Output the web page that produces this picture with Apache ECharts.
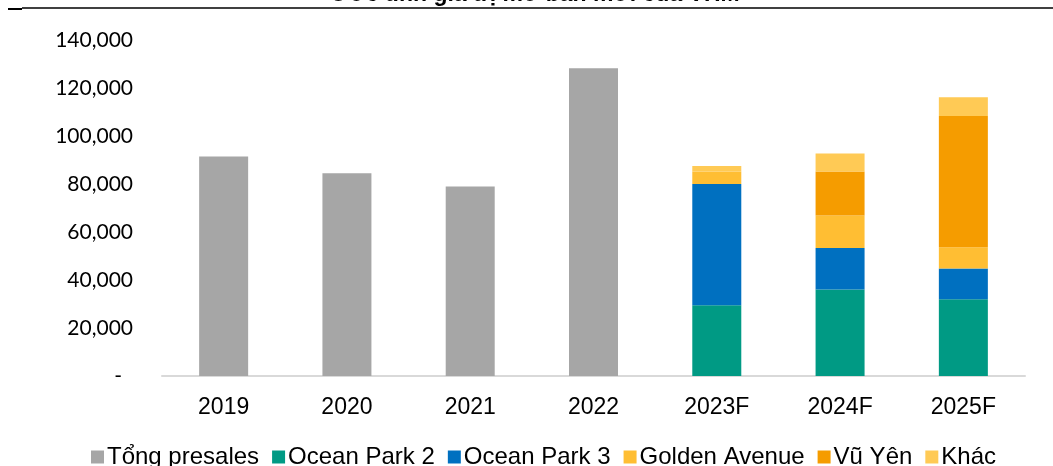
<!DOCTYPE html>
<html>
<head>
<meta charset="utf-8">
<script src="https://cdn.jsdelivr.net/npm/echarts@6/dist/echarts.min.js"></script>
<style>html,body{margin:0;padding:0;background:#fff;}#c{width:1053px;height:466px;}</style>
</head>
<body>
<div id="c"></div>
<script>
const categories = ['2019', '2020', '2021', '2022', '2023F', '2024F', '2025F'];
const tongPresales = [91500, 84500, 79000, 128200, null, null, null];
const oceanPark2 = [null, null, null, null, 29500, 36000, 32000];
const oceanPark3 = [null, null, null, null, 50500, 17300, 12750];
const goldenAvenue = [null, null, null, null, 5200, 13600, 8900];
const vuYen = [null, null, null, null, 0, 18300, 54700];
const khac = [null, null, null, null, 2300, 7500, 7800];
const yTicks = { min: 0, max: 140000, interval: 20000 };
const titleText = 'Ước tính giá trị mở bán mới của VHM';

const chart = echarts.init(document.getElementById('c'), null, { renderer: 'canvas' });
function bar(name, data, color) {
  return { name: name, type: 'bar', stack: 'total', data: data, barWidth: 49,
    itemStyle: { color: color }, emphasis: { disabled: true } };
}
chart.setOption({
  animation: false,
  backgroundColor: '#ffffff',
  grid: { left: 162, right: 28, top: 40, bottom: 90 },
  graphic: [
    { type: 'text', x: 0, y: 0, style: { text: titleText, x: 535, y: 6, align: 'center', verticalAlign: 'bottom', font: 'bold 23px "Liberation Sans", Arial', fill: '#000' } },
    { type: 'line', shape: { x1: 8, y1: 9, x2: 22, y2: 9 }, style: { stroke: '#000', lineWidth: 2 } },
    { type: 'line', shape: { x1: 22, y1: 8, x2: 1053, y2: 8 }, style: { stroke: '#000', lineWidth: 1.5 } }
  ],
  legend: {
    top: 440, left: 86, itemWidth: 13, itemHeight: 13, itemGap: 13,
    icon: 'rect',
    textStyle: { fontFamily: '"Liberation Sans", Arial', fontSize: 24, color: '#000', padding: [0, 0, 0, -2] },
    data: ['Tổng presales', 'Ocean Park 2', 'Ocean Park 3', 'Golden Avenue', 'Vũ Yên', 'Khác']
  },
  xAxis: {
    type: 'category', data: categories,
    axisLine: { lineStyle: { color: '#D9D9D9', width: 2 } },
    axisTick: { show: false },
    axisLabel: { color: '#000', fontFamily: '"Liberation Sans", Arial', fontSize: 23, margin: 20 }
  },
  yAxis: {
    type: 'value', min: yTicks.min, max: yTicks.max, interval: yTicks.interval,
    splitLine: { show: false }, axisLine: { show: false }, axisTick: { show: false },
    axisLabel: {
      margin: 29, color: '#000', fontFamily: 'Lato', fontSize: 21,
      formatter: function (v) { return v === 0 ? '{d|-}' : v.toLocaleString('en-US'); },
      rich: { d: { fontFamily: 'Lato', fontSize: 21, color: '#000', padding: [0, 11, 0, 0] } }
    }
  },
  series: [
    bar('Tổng presales', tongPresales, '#A6A6A6'),
    bar('Ocean Park 2', oceanPark2, '#009A84'),
    bar('Ocean Park 3', oceanPark3, '#0070C0'),
    bar('Golden Avenue', goldenAvenue, '#FFBE33'),
    bar('Vũ Yên', vuYen, '#F59C00'),
    bar('Khác', khac, '#FFCA55')
  ]
});
</script>
</body>
</html>
